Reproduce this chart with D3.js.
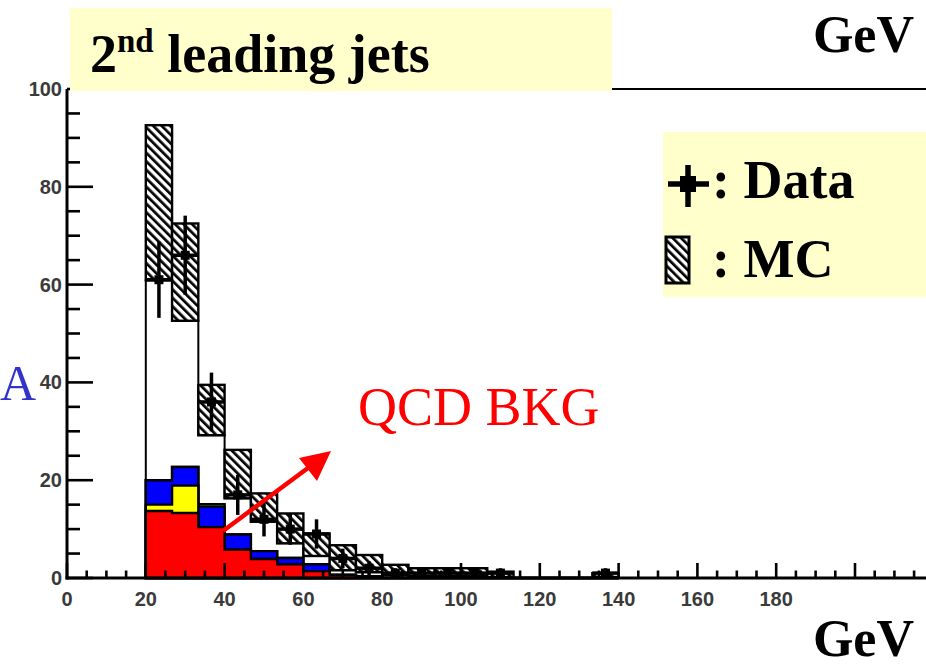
<!DOCTYPE html>
<html>
<head>
<meta charset="utf-8">
<script src="https://cdn.jsdelivr.net/npm/d3@7/dist/d3.min.js"></script>
<style>
  html, body { margin: 0; padding: 0; background: #fff; }
  svg { display: block; }
</style>
</head>
<body>
<svg id="chart" width="926" height="668"></svg>
<script>
// Lower edges of the transverse-momentum bins (GeV), 30 bins over 0-200
const binLow = [20, 26.667, 33.333, 40, 46.667, 53.333, 60, 66.667, 73.333, 80,
                86.667, 93.333, 100, 106.667, 113.333, 120, 126.667, 133.333];
const binWidth = 20 / 3;

// Simulation: uncertainty band (lower / upper edge) per bin
const mcLow  = [60.9, 52.6, 29.2, 16.3, 11.5, 7.1, 4.5, 1.6, 1.2, 0.6, 0.4, 0.4, 0.4, 0.2, 0, 0, 0, 0.2];
const mcHigh = [92.6, 72.5, 39.5, 26.2, 17.3, 13.2, 9.1, 6.7, 4.7, 2.7, 2.0, 2.0, 2.0, 1.3, 0, 0, 0, 1.0];

// Stacked background components per bin
const qcd    = [13.7, 13.3, 10.4, 5.8, 3.9, 2.8, 1.4, 0.6, 0.3, 0, 0, 0.4, 0, 0, 0, 0, 0, 0];
const yellow = [1.3, 5.6, 0, 0, 0, 0, 0, 0, 0, 0, 0, 0, 0, 0, 0, 0, 0, 0];
const blue   = [5.0, 3.8, 4.2, 3.1, 1.6, 1.3, 1.4, 0, 0, 0, 0, 0, 0, 0, 0, 0, 0, 0];
const green  = [0, 0, 0.5, 0, 0, 0, 0, 0, 0, 0, 0, 0, 0, 0, 0, 0, 0, 0];

// Observed events and their errors
const dataVal = [61, 66, 36, 17, 12, 10, 9, 4, 2, 1, 1, 1, 1, 1, 0, 0, 0, 1];
const dataErr = [7.8, 8.1, 6.0, 4.1, 3.5, 3.2, 3.0, 2.0, 1.4, 1, 1, 1, 1, 1, 0, 0, 0, 1];

// Axis tick labels
const xTickLabels = [0, 20, 40, 60, 80, 100, 120, 140, 160, 180];
const yTickLabels = [0, 20, 40, 60, 80, 100];

const svg = d3.select("#chart");
const W = 926, H = 668;

const x = d3.scaleLinear().domain([0, 200]).range([67, 855]);
const y = d3.scaleLinear().domain([0, 100]).range([578, 89]);
const xMax = x.invert(W);

// hatch pattern for the simulation band
const defs = svg.append("defs");
const pat = defs.append("pattern")
  .attr("id", "hatch").attr("patternUnits", "userSpaceOnUse")
  .attr("width", 6).attr("height", 6)
  .attr("patternTransform", "rotate(-45)");
pat.append("rect").attr("width", 6).attr("height", 6).attr("fill", "#fff");
pat.append("rect").attr("x", 0).attr("y", 0).attr("width", 2.7).attr("height", 6).attr("fill", "#000");

svg.append("rect").attr("width", W).attr("height", H).attr("fill", "#fff");

const plot = svg.append("g");

// step-shaped area for a per-bin series
function stepArea(vals) {
  const pts = binLow.map((b, i) => ({ x: b, v: vals[i] }));
  pts.push({ x: binLow[binLow.length - 1] + binWidth, v: vals[vals.length - 1] });
  return d3.area()
    .x(d => x(d.x))
    .y0(y(0))
    .y1(d => y(d.v))
    .curve(d3.curveStepAfter)(pts);
}

// white simulation histogram underneath the band
plot.append("path")
  .attr("d", stepArea(mcLow))
  .attr("fill", "#fff").attr("stroke", "#000").attr("stroke-width", 2);

// stacked background components, drawn from the top layer down
const cum1 = qcd.slice();
const cum2 = cum1.map((v, i) => v + yellow[i]);
const cum3 = cum2.map((v, i) => v + blue[i]);
const cum4 = cum3.map((v, i) => v + green[i]);
const layers = [
  { vals: cum4, color: "#00c000" },
  { vals: cum3, color: "#0000ff" },
  { vals: cum2, color: "#ffff00" },
  { vals: cum1, color: "#ff0000" }
];
layers.forEach(l => {
  plot.append("path")
    .attr("d", stepArea(l.vals))
    .attr("fill", l.color)
    .attr("stroke", "#000").attr("stroke-width", 2.4);
});

// hatched uncertainty boxes
const bins = binLow.map((b, i) => ({ b, lo: mcLow[i], hi: mcHigh[i], d: dataVal[i], e: dataErr[i] }));
plot.selectAll("rect.band")
  .data(bins.filter(d => d.hi > 0))
  .join("rect")
  .attr("class", "band")
  .attr("x", d => x(d.b))
  .attr("y", d => y(d.hi))
  .attr("width", d => x(d.b + binWidth) - x(d.b))
  .attr("height", d => y(d.lo) - y(d.hi))
  .attr("fill", "url(#hatch)")
  .attr("stroke", "#000").attr("stroke-width", 2.4);

// data points with error bars
const pts = plot.append("g");
bins.filter(d => d.d > 0).forEach(d => {
  const cx = x(d.b + binWidth / 2);
  pts.append("line")
    .attr("x1", cx).attr("x2", cx)
    .attr("y1", y(d.d + d.e)).attr("y2", y(Math.max(0, d.d - d.e)))
    .attr("stroke", "#000").attr("stroke-width", 3.5);
  pts.append("line")
    .attr("x1", x(d.b)).attr("x2", x(d.b + binWidth))
    .attr("y1", y(d.d)).attr("y2", y(d.d))
    .attr("stroke", "#000").attr("stroke-width", 3.5);
  pts.append("rect")
    .attr("x", cx - 4.5).attr("y", y(d.d) - 4.5)
    .attr("width", 9).attr("height", 9).attr("fill", "#000");
});

// frame and axes
const axisG = svg.append("g");
axisG.append("line").attr("x1", x(0)).attr("x2", W).attr("y1", y(100)).attr("y2", y(100))
  .attr("stroke", "#000").attr("stroke-width", 2);
axisG.append("line").attr("x1", x(0)).attr("x2", x(0)).attr("y1", y(100)).attr("y2", y(0) + 1.5)
  .attr("stroke", "#000").attr("stroke-width", 3);
axisG.append("line").attr("x1", x(0) - 1.5).attr("x2", W).attr("y1", y(0)).attr("y2", y(0))
  .attr("stroke", "#000").attr("stroke-width", 3);

// inward ticks
const xTicks = d3.range(0, xMax, 5);
axisG.selectAll("line.xt")
  .data(xTicks)
  .join("line").attr("class", "xt")
  .attr("x1", d => x(d)).attr("x2", d => x(d))
  .attr("y1", y(0)).attr("y2", d => y(0) - (d % 20 === 0 ? 15 : 7.5))
  .attr("stroke", "#000").attr("stroke-width", 2.6);
axisG.selectAll("line.yt")
  .data(d3.range(0, 101, 5))
  .join("line").attr("class", "yt")
  .attr("y1", d => y(d)).attr("y2", d => y(d))
  .attr("x1", x(0)).attr("x2", d => x(0) + (d % 20 === 0 ? 26 : 13))
  .attr("stroke", "#000").attr("stroke-width", 2.6);

// tick labels
const lblFont = "'Liberation Sans', Arial, sans-serif";
axisG.selectAll("text.xl")
  .data(xTickLabels)
  .join("text").attr("class", "xl")
  .attr("x", d => x(d)).attr("y", 606)
  .attr("text-anchor", "middle")
  .attr("font-family", lblFont).attr("font-size", 20).attr("font-weight", "bold")
  .attr("fill", "#3a3a3a")
  .text(d => d);
axisG.selectAll("text.yl")
  .data(yTickLabels)
  .join("text").attr("class", "yl")
  .attr("x", 62).attr("y", d => y(d) + 7)
  .attr("text-anchor", "end")
  .attr("font-family", lblFont).attr("font-size", 20).attr("font-weight", "bold")
  .attr("fill", "#3a3a3a")
  .text(d => d);

const serif = "'Liberation Serif', 'Times New Roman', serif";

// title panel
svg.append("rect").attr("x", 70).attr("y", 8).attr("width", 542).attr("height", 83).attr("fill", "#ffffcc");
const title = svg.append("text").attr("x", 90).attr("y", 72)
  .attr("font-family", serif).attr("font-weight", "bold").attr("font-size", 54).attr("fill", "#000");
title.append("tspan").text("2");
title.append("tspan").attr("dy", -20).attr("font-size", 33).text("nd");
title.append("tspan").attr("dy", 20).text(" leading jets");

// unit labels
svg.append("text").attr("x", 914).attr("y", 52).attr("text-anchor", "end")
  .attr("font-family", serif).attr("font-weight", "bold").attr("font-size", 52).text("GeV");
svg.append("text").attr("x", 914).attr("y", 656).attr("text-anchor", "end")
  .attr("font-family", serif).attr("font-weight", "bold").attr("font-size", 52).text("GeV");

// blue letter on the left edge
svg.append("text").attr("x", 0).attr("y", 400)
  .attr("font-family", serif).attr("font-size", 50).attr("fill", "#3333cc").text("A");

// legend
svg.append("rect").attr("x", 663).attr("y", 132).attr("width", 263).attr("height", 165).attr("fill", "#ffffcc");
const lg = svg.append("g");
lg.append("line").attr("x1", 688).attr("x2", 688).attr("y1", 165).attr("y2", 207).attr("stroke", "#000").attr("stroke-width", 5.5);
lg.append("line").attr("x1", 668).attr("x2", 709).attr("y1", 184).attr("y2", 184).attr("stroke", "#000").attr("stroke-width", 5.5);
lg.append("rect").attr("x", 680).attr("y", 176).attr("width", 16).attr("height", 16).attr("fill", "#000");
lg.append("text").attr("x", 712).attr("y", 198)
  .attr("font-family", serif).attr("font-weight", "bold").attr("font-size", 54).text(": Data");
lg.append("rect").attr("x", 666).attr("y", 237).attr("width", 23).attr("height", 46)
  .attr("fill", "url(#hatch)").attr("stroke", "#000").attr("stroke-width", 3);
lg.append("text").attr("x", 712).attr("y", 277)
  .attr("font-family", serif).attr("font-weight", "bold").attr("font-size", 54).text(": MC");

// QCD background annotation
svg.append("text").attr("x", 358).attr("y", 425)
  .attr("font-family", serif).attr("font-size", 54).attr("fill", "#ff0000").text("QCD BKG");
svg.append("line").attr("x1", 223).attr("y1", 531).attr("x2", 312).attr("y2", 465)
  .attr("stroke", "#ff0000").attr("stroke-width", 4.5);
svg.append("path").attr("d", "M331,451 L299,458 L317,481 Z").attr("fill", "#ff0000");
</script>
</body>
</html>
